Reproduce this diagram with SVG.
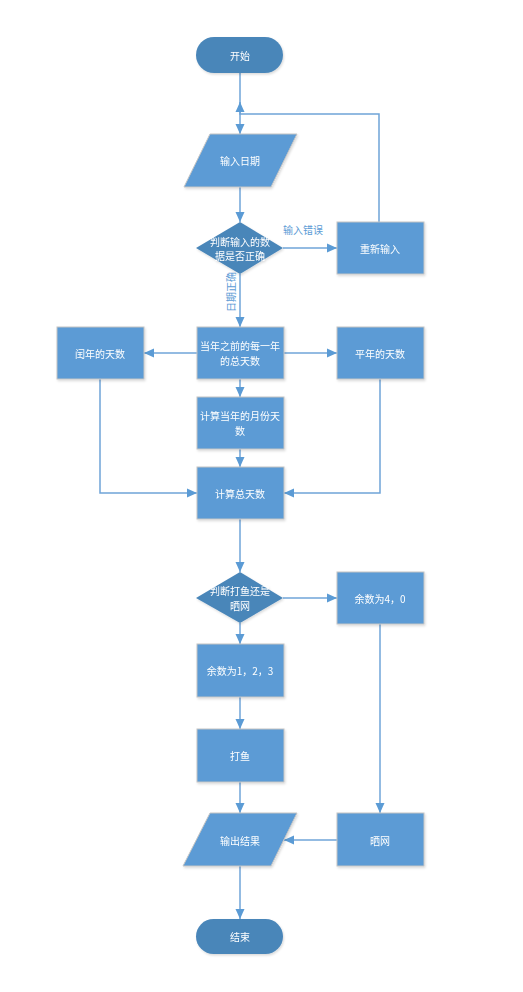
<svg xmlns="http://www.w3.org/2000/svg" width="523" height="992" viewBox="0 0 523 992">
<style>
.bg{fill:#ffffff}
.box{fill:#5b9bd5;stroke:#c4c4c4;stroke-width:1}
.dark{fill:#4a86b9;stroke:none}
.t{font-family:"Noto Sans CJK SC","Liberation Sans",sans-serif;font-size:10px;fill:#ffffff;text-anchor:middle;dominant-baseline:central}
.lbl{font-family:"Noto Sans CJK SC","Liberation Sans",sans-serif;font-size:10px;fill:#5b9bd5;text-anchor:middle;dominant-baseline:central}
.c{fill:none;stroke:#6fa4d8;stroke-width:1.5}
</style>
<defs>
<marker id="a" markerUnits="userSpaceOnUse" markerWidth="10" markerHeight="10" viewBox="0 0 10 10" refX="10" refY="5" orient="auto">
<path d="M0,0.5 L10,5 L0,9.5 Z" fill="#5b9bd5"/>
</marker>
<filter id="sh" x="-10%" y="-10%" width="130%" height="130%">
<feDropShadow dx="1" dy="1.5" stdDeviation="1" flood-color="#000" flood-opacity="0.15"/>
</filter>
</defs>
<rect class="bg" x="0" y="0" width="523" height="992"/>
<g id="connectors">
<path class="c" d="M240,73 V134" marker-end="url(#a)"/>
<path class="c" d="M379,222 V114 H240 V102" marker-end="url(#a)"/>
<path class="c" d="M240,187 V222" marker-end="url(#a)"/>
<path class="c" d="M283,248 H337" marker-end="url(#a)"/>
<path class="c" d="M240,274 V327" marker-end="url(#a)"/>
<path class="c" d="M197,353 H144" marker-end="url(#a)"/>
<path class="c" d="M284,353 H337" marker-end="url(#a)"/>
<path class="c" d="M240,379 V397" marker-end="url(#a)"/>
<path class="c" d="M240,449 V467" marker-end="url(#a)"/>
<path class="c" d="M100,379 V493 H197" marker-end="url(#a)"/>
<path class="c" d="M380,379 V493 H284" marker-end="url(#a)"/>
<path class="c" d="M240,519 V572" marker-end="url(#a)"/>
<path class="c" d="M283,598 H337" marker-end="url(#a)"/>
<path class="c" d="M240,623 V644" marker-end="url(#a)"/>
<path class="c" d="M240,697 V729" marker-end="url(#a)"/>
<path class="c" d="M240,782 V813" marker-end="url(#a)"/>
<path class="c" d="M380,624 V813" marker-end="url(#a)"/>
<path class="c" d="M337,840 H284" marker-end="url(#a)"/>
<path class="c" d="M240,866 V919" marker-end="url(#a)"/>
<text class="lbl" x="303" y="229">输入错误</text>
<text class="lbl" transform="translate(230,292) rotate(-90)" x="0" y="0">日期正确</text>
</g>
<g id="start" filter="url(#sh)">
<rect class="dark" x="196" y="37" width="87" height="36" rx="18"/>
<text class="t" x="240" y="55">开始</text>
</g>
<g id="input" filter="url(#sh)">
<polygon class="box" points="210,134 297,134 271,187 184,187"/>
<text class="t" x="240" y="160">输入日期</text>
</g>
<g id="check" filter="url(#sh)">
<polygon class="dark" points="240,222 283,248 240,274 196,248"/>
<text class="t" x="240" y="241">判断输入的数</text>
<text class="t" x="240" y="255">据是否正确</text>
</g>
<g id="reinput" filter="url(#sh)">
<rect class="box" x="337" y="222" width="87" height="52"/>
<text class="t" x="380" y="248">重新输入</text>
</g>
<g id="leap" filter="url(#sh)">
<rect class="box" x="57" y="327" width="87" height="52"/>
<text class="t" x="100" y="353">闰年的天数</text>
</g>
<g id="prev" filter="url(#sh)">
<rect class="box" x="197" y="327" width="87" height="52"/>
<text class="t" x="240" y="345">当年之前的每一年</text>
<text class="t" x="240" y="360">的总天数</text>
</g>
<g id="common" filter="url(#sh)">
<rect class="box" x="337" y="327" width="87" height="52"/>
<text class="t" x="380" y="353">平年的天数</text>
</g>
<g id="month" filter="url(#sh)">
<rect class="box" x="197" y="397" width="87" height="52"/>
<text class="t" x="240" y="415">计算当年的月份天</text>
<text class="t" x="240" y="430">数</text>
</g>
<g id="total" filter="url(#sh)">
<rect class="box" x="197" y="467" width="87" height="52"/>
<text class="t" x="240" y="493">计算总天数</text>
</g>
<g id="decide" filter="url(#sh)">
<polygon class="dark" points="240,572 283,598 240,623 196,598"/>
<text class="t" x="240" y="590">判断打鱼还是</text>
<text class="t" x="240" y="605">晒网</text>
</g>
<g id="r40" filter="url(#sh)">
<rect class="box" x="337" y="572" width="87" height="52"/>
<text class="t" x="380" y="598">余数为4，0</text>
</g>
<g id="r123" filter="url(#sh)">
<rect class="box" x="197" y="644" width="87" height="53"/>
<text class="t" x="240" y="670">余数为1，2，3</text>
</g>
<g id="fish" filter="url(#sh)">
<rect class="box" x="197" y="729" width="87" height="53"/>
<text class="t" x="240" y="755">打鱼</text>
</g>
<g id="net" filter="url(#sh)">
<rect class="box" x="337" y="813" width="87" height="53"/>
<text class="t" x="380" y="840">晒网</text>
</g>
<g id="output" filter="url(#sh)">
<polygon class="box" points="210,813 297,813 271,866 183,866"/>
<text class="t" x="240" y="840">输出结果</text>
</g>
<g id="end" filter="url(#sh)">
<rect class="dark" x="196" y="919" width="87" height="35" rx="17.5"/>
<text class="t" x="240" y="936">结束</text>
</g>
</svg>
